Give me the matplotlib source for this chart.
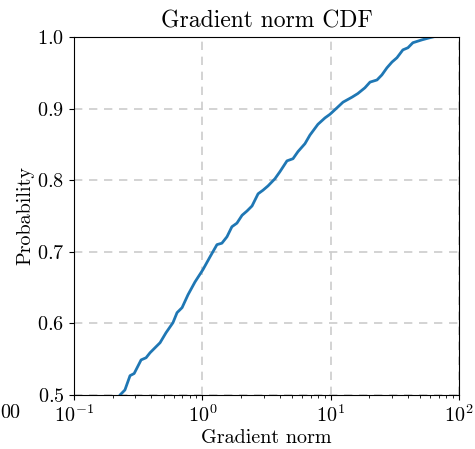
import numpy as np
import matplotlib
matplotlib.use("Agg")
import matplotlib.pyplot as plt

plt.rcParams["font.family"] = "serif"
plt.rcParams["font.serif"] = ["cmr10", "DejaVu Serif"]
plt.rcParams["mathtext.fontset"] = "cm"
plt.rcParams["axes.formatter.use_mathtext"] = True
plt.rcParams["axes.unicode_minus"] = False

# empirical CDF of gradient norms (sampled along the curve)
grad_norm = [0.20, 0.228, 0.249, 0.273, 0.294, 0.333, 0.364, 0.391, 0.468, 0.521,
             0.590, 0.635, 0.695, 0.773, 0.877, 1.01, 1.148, 1.30, 1.42, 1.556,
             1.70, 1.86, 2.04, 2.23, 2.44, 2.72, 2.97, 3.25, 3.68, 4.03,
             4.57, 5.09, 5.57, 6.31, 6.90, 7.96, 9.04, 9.88, 11.2, 12.5,
             14.7, 16.3, 18.5, 20.3, 23.0, 25.1, 27.5, 30.1, 32.9, 36.6,
             40.1, 43.8, 51.5, 59.4, 62.7]
prob = [0.480, 0.500, 0.507, 0.527, 0.530, 0.549, 0.552, 0.559, 0.573, 0.587,
        0.601, 0.615, 0.622, 0.640, 0.658, 0.675, 0.693, 0.710, 0.712, 0.721,
        0.735, 0.740, 0.751, 0.757, 0.764, 0.781, 0.786, 0.792, 0.802, 0.812,
        0.827, 0.830, 0.840, 0.851, 0.863, 0.878, 0.887, 0.892, 0.901, 0.909,
        0.916, 0.921, 0.929, 0.937, 0.940, 0.947, 0.957, 0.965, 0.971, 0.982,
        0.985, 0.992, 0.996, 0.999, 1.000]

fig = plt.figure(figsize=(4.75, 4.49), dpi=100)
ax = fig.add_axes([0.156, 0.1203, 0.81, 0.7973])

ax.plot(grad_norm, prob, color="tab:blue", lw=2)

ax.set_xscale("log")
ax.set_xlim(1e-1, 1e2)
ax.set_ylim(0.5, 1.0)
ax.set_yticks([0.5, 0.6, 0.7, 0.8, 0.9, 1.0])
ax.grid(True, which="major", color="#cccccc", linestyle=(0, (5, 4)), lw=1.2)

ax.tick_params(labelsize=14.5)
ax.set_title("Gradient norm CDF", fontsize=17, pad=7)
ax.set_xlabel("Gradient norm", fontsize=14.5, labelpad=2)
ax.set_ylabel("Probability", fontsize=14.5, labelpad=2)

# tail of a neighbouring panel's tick label
fig.text(0, 1 - 413 / 449, "00", fontsize=14.5, ha="left", va="center")

fig.savefig("out.png", dpi=100)
